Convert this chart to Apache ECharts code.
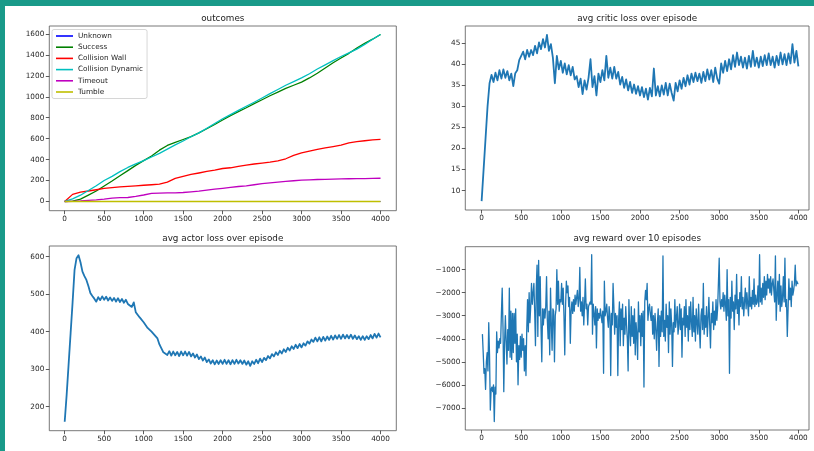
<!DOCTYPE html>
<html><head><meta charset="utf-8">
<script src="https://cdn.jsdelivr.net/npm/echarts@6/dist/echarts.min.js"></script>
<style>html,body{margin:0;padding:0;background:#fff}#c{width:814px;height:451px}</style>
</head><body><div id="c"></div>
<script>
// ---- tick labels ----
const xTickValues = [0,500,1000,1500,2000,2500,3000,3500,4000];
const outcomeTickValues = [0,200,400,600,800,1000,1200,1400,1600];
const criticTickValues = [10,15,20,25,30,35,40,45];
const actorTickValues = [200,300,400,500,600];
const rewardTickValues = [-7000,-6000,-5000,-4000,-3000,-2000,-1000];

// ---- outcomes (cumulative counts, every 100 episodes) ----
const outcomeEpisodes = [0,100,200,300,400,500,600,700,800,900,1000,1100,1200,1300,1400,1500,1600,1700,1800,1900,2000,2100,2200,2300,2400,2500,2600,2700,2800,2900,3000,3100,3200,3300,3400,3500,3600,3700,3800,3900,4000];
const unknown = [0,0,0,0,0,0,0,0,0,0,0,0,0,0,0,0,0,0,0,0,0,0,0,0,0,0,0,0,0,0,0,0,0,0,0,0,0,0,0,0,0];
const success = [0,3,22,60,100,148,195,245,295,345,390,435,490,535,565,592,620,655,695,735,778,820,858,895,935,972,1010,1045,1080,1110,1140,1180,1225,1275,1325,1370,1415,1465,1510,1550,1595];
const collisionWall = [0,68,90,100,112,125,133,140,145,150,155,160,165,185,220,240,258,272,287,300,315,322,335,348,358,366,375,388,408,440,465,482,498,512,525,538,560,572,580,588,593];
const collisionDynamic = [0,25,60,105,150,200,240,285,325,360,390,425,460,500,540,578,618,655,700,745,790,830,870,910,948,988,1030,1070,1110,1145,1180,1220,1265,1305,1345,1385,1420,1455,1500,1550,1595];
const timeout = [0,2,5,10,15,22,32,36,38,48,62,78,80,82,83,86,92,98,108,118,126,135,143,150,160,170,178,185,192,198,204,207,210,212,214,216,217,218,219,221,222];
const tumble = [0,0,0,0,0,0,0,0,0,0,0,0,0,0,0,0,0,0,0,0,0,0,0,0,0,0,0,0,0,0,0,0,0,0,0,0,0,0,0,0,0];

// ---- avg critic loss (every 25 episodes) ----
const criticStep = 25;
const criticLoss = [
7.5,15,22.5,30,35.5,37.5,35.8,38.0,36.2,38.6,
36.6,38.8,36.8,38.4,36.2,37.8,34.8,37.9,38.6,41.0,
41.0,43.0,41.2,43.4,41.8,43.4,42.2,44.4,42.6,45.2,
43.6,46.0,44.0,47.0,43.2,44.8,41.6,35.5,42.0,38.8,
40.8,38.0,40.2,37.6,39.8,37.4,39.4,36.4,37.2,34.6,
36.6,32.9,36.2,34.0,36.8,41.2,34.6,37.2,32.6,37.8,
35.8,38.6,36.2,42.0,36.8,39.2,36.6,39.4,36.6,38.2,
35.2,37.0,34.4,36.4,33.8,35.8,33.2,35.2,33.0,34.8,
32.6,34.6,32.2,34.2,31.6,34.4,32.4,39.0,32.6,34.8,
32.4,35.0,32.8,35.6,32.6,35.4,33.2,31.4,35.6,33.6,
36.2,34.2,36.8,34.8,37.4,35.2,37.8,35.8,38.0,36.0,
37.8,35.6,38.2,36.0,38.8,36.4,38.6,35.8,39.2,36.6,
35.4,40.2,38.0,40.8,38.4,41.2,38.8,42.2,39.4,42.8,
39.8,41.8,39.2,41.6,39.0,42.0,39.4,43.2,39.6,41.6,
39.2,41.8,39.6,42.2,39.8,42.6,39.8,41.8,39.2,42.0,
39.8,42.8,40.0,42.4,39.8,42.6,40.2,44.8,40.4,43.2,
39.5];

// ---- avg actor loss (every 25 episodes) ----
const actorStep = 25;
const actorLoss = [
160,232,314,396,478,565,596,604,585,560,
548,538,522,503,495,488,480,492,484,494,
485,493,483,491,482,490,480,489,479,487,
477,485,474,476,466,478,452,454,438,438,
425,426,410,413,400,404,388,382,366,364,
345,350,338,348,336,347,337,346,335,347,
337,347,336,346,334,342,331,339,327,334,
323,331,319,326,315,324,313,323,314,324,
314,325,314,324,313,324,314,325,315,324,
314,323,312,321,309,321,314,325,316,328,
319,330,324,335,329,340,334,345,338,349,
342,353,346,357,350,361,354,365,356,367,
358,369,363,374,368,379,373,384,374,385,
374,386,376,387,378,389,379,390,381,391,
381,392,382,391,382,392,381,390,380,388,
378,388,378,388,380,391,382,394,384,395,
385];

// ---- avg reward over 10 episodes (episodes 10..4000) ----
const rewardStep = 10;
const rewardAvg = [
-3800,-4600,-5500,-5300,-6200,-5000,-4600,-5400,-3300,-4700,
-7100,-6200,-6100,-6300,-6000,-7600,-6100,-6400,-3700,-4600,
-4100,-4400,-4000,-4200,-2900,-1800,-3500,-6300,-4200,-3000,
-4100,-5100,-3600,-4500,-1800,-4800,-2800,-4900,-2900,-4600,
-2900,-4200,-2700,-5000,-3800,-6000,-4300,-4900,-3900,-4800,
-3800,-4500,-4000,-5400,-4300,-5600,-3600,-2300,-3700,-2000,
-3300,-2600,-1600,-2500,-2000,-1600,-2800,-4300,-1800,-800,
-3900,-600,-3000,-1300,-3500,-5000,-2700,-3400,-2700,-3100,
-2600,-1300,-3200,-4000,-2800,-4700,-1800,-3300,-4500,-2700,
-2800,-5000,-3000,-2700,-1000,-2500,-1500,-2800,-2300,-2400,
-1600,-2500,-1800,-3000,-4700,-2600,-1500,-2000,-1700,-2600,
-2200,-4200,-2800,-2400,-2900,-2300,-2800,-2100,-2500,-2200,
-1900,-2600,-2300,-900,-2800,-2400,-3000,-2200,-3400,-2500,
-1400,-2700,-2500,-3400,-2600,-2500,-2400,-2500,-350,-3800,
-2500,-2900,-3400,-2600,-4400,-2700,-3200,-2900,-3100,-2700,
-3000,-3300,-2800,-5500,-1500,-3000,-2800,-2500,-3100,-3500,
-2600,-3000,-5600,-2900,-3400,-1600,-2600,-3800,-2900,-3500,
-3000,-5600,-3200,-2400,-4300,-2700,-3600,-2500,-4300,-3100,
-3800,-2600,-3400,-4000,-5400,-2300,-3600,-4300,-2600,-3900,
-3000,-4200,-2700,-4700,-3300,-3800,-4900,-2400,-3700,-3000,
-4300,-2900,-3900,-2800,-6100,-2400,-1900,-2300,-1600,-3200,
-2700,-2500,-2900,-3200,-2600,-3800,-3000,-4000,-2900,-3600,
-4500,-3300,-2700,-5200,-3000,-3900,-2800,-3700,-400,-3900,
-3200,-4100,-2500,-3500,-3000,-4600,-2400,-3800,-2700,-3400,
-5200,-3300,-3700,-2300,-3500,-3100,-2600,-3800,-3400,-2500,
-3600,-2700,-4800,-3100,-3400,-2600,-3900,-2300,-3500,-3000,
-4100,-2600,-3600,-2400,-3300,-3900,-2200,-3700,-3000,-4100,
-2700,-3300,-3800,-2500,-3500,-4400,-3000,-2700,-3600,-1600,
-3800,-3000,-3500,-2600,-3900,-3100,-2200,-3400,-4400,-2900,
-3300,-2400,-3600,-2800,-3400,-2300,-3200,-2700,-1600,-500,
-2400,-2700,-2300,-2600,-2000,-2800,-2100,-2500,-3200,-1000,
-3000,-2300,-5500,-2200,-3100,-1500,-2800,-2400,-3600,-2100,
-2700,-1200,-2900,-2300,-3400,-2000,-2600,-1300,-2700,-2200,
-3000,-2400,-1800,-2700,-2000,-2500,-3000,-1300,-2600,-2200,
-2700,-1900,-2500,-1400,-2600,-2100,-2500,-2400,-1700,-2600,
-350,-2400,-1800,-2500,-1600,-2200,-1300,-2300,-1500,-2100,
-1200,-1800,-1400,-2000,-1300,-2100,-1600,-1400,-1900,-2400,
-400,-3200,-2100,-1500,-2500,-1200,-2800,-1700,-2600,-2200,
-1300,-2400,-500,-2600,-2300,-3900,-2700,-1400,-2300,-1800,
-2600,-1500,-2100,-1900,-1600,-800,-1700,-1500,-1600,-1600];

const FONT = 'DejaVu Sans';
const BLUE = '#1f77b4';

function xAx(g, min, max) {
  return {type:'value', gridIndex:g, min:min, max:max,
    splitLine:{show:false}, axisLine:{show:false, onZero:false},
    axisTick:{show:true, length:3.5, customValues:xTickValues, lineStyle:{color:'#333', width:0.8}},
    axisLabel:{customValues:xTickValues, fontSize:7.3, color:'#262626', fontFamily:FONT, margin:5,
      formatter: v => String(v)}};
}
function yAx(g, min, max, ticks, fmt) {
  return {type:'value', gridIndex:g, min:min, max:max,
    splitLine:{show:false}, axisLine:{show:false, onZero:false},
    axisTick:{show:true, length:3.5, customValues:ticks, lineStyle:{color:'#333', width:0.8}},
    axisLabel:{customValues:ticks, fontSize:7.3, color:'#262626', fontFamily:FONT, margin:5,
      formatter: fmt || (v => String(v))}};
}
function line(name, g, xs, ys, color, w, z) {
  return {type:'line', name:name, xAxisIndex:g, yAxisIndex:g, z: z || 2,
    data: ys.map((v,i)=>[xs(i), v]), showSymbol:false, symbol:'none',
    lineStyle:{width:w||1.3, color:color, join:'round'}, itemStyle:{color:color}, animation:false};
}
const gridBase = {show:true, borderColor:'#555', borderWidth:0.8, containLabel:false};
function title(text, cx, top) {
  return {text:text, left:cx, top:top, textAlign:'center', padding:0,
    textStyle:{fontSize:8.8, fontWeight:'normal', color:'#222', fontFamily:FONT}};
}
const minusFmt = v => v < 0 ? '\u2212' + Math.abs(v) : String(v);

const chart = echarts.init(document.getElementById('c'), null, {renderer:'canvas'});
chart.setOption({
  animation:false,
  backgroundColor:'#fff',
  graphic:[
    {type:'rect', shape:{x:0,y:0,width:814,height:6}, style:{fill:'#199a89'}, z:100},
    {type:'rect', shape:{x:0,y:0,width:5,height:451}, style:{fill:'#199a89'}, z:100}
  ],
  title:[
    title('outcomes', 222.8, 14),
    title('avg critic loss over episode', 637.2, 14),
    title('avg actor loss over episode', 222.8, 234),
    title('avg reward over 10 episodes', 637.2, 234)
  ],
  grid:[
    Object.assign({left:49.3, top:26, width:347, height:184.7}, gridBase),
    Object.assign({left:465.3, top:26, width:343.7, height:184}, gridBase),
    Object.assign({left:49.3, top:246, width:347, height:184.7}, gridBase),
    Object.assign({left:465.3, top:246.7, width:343.7, height:183.3}, gridBase)
  ],
  xAxis:[ xAx(0,-195,4200), xAx(1,-206,4134), xAx(2,-195,4200), xAx(3,-206,4134) ],
  yAxis:[
    yAx(0,-88,1676,outcomeTickValues),
    yAx(1,5.4,49.1,criticTickValues),
    yAx(2,136,628.4,actorTickValues),
    yAx(3,-7965,0,rewardTickValues,minusFmt)
  ],
  legend:{
    left:52, top:29.5, orient:'vertical', itemWidth:17, itemHeight:1.6, itemGap:2.2,
    icon:'rect', padding:[2,4,2,4], borderColor:'#cccccc', borderWidth:0.8, borderRadius:2,
    backgroundColor:'rgba(255,255,255,0.85)',
    textStyle:{fontSize:7.3, color:'#262626', fontFamily:FONT, lineHeight:9, padding:[0,0,0,0]},
    data:['Unknown','Success','Collision Wall','Collision Dynamic','Timeout','Tumble']
  },
  series:[
    line('Unknown',0,i=>outcomeEpisodes[i],unknown,'#0000ff',1.0,1),
    line('Success',0,i=>outcomeEpisodes[i],success,'#008000'),
    line('Collision Wall',0,i=>outcomeEpisodes[i],collisionWall,'#ff0000'),
    line('Collision Dynamic',0,i=>outcomeEpisodes[i],collisionDynamic,'#00bfbf'),
    line('Timeout',0,i=>outcomeEpisodes[i],timeout,'#bf00bf'),
    line('Tumble',0,i=>outcomeEpisodes[i],tumble,'#bfbf00',1.6,3),
    line('critic',1,i=>i*criticStep,criticLoss,BLUE,1.8),
    line('actor',2,i=>i*actorStep,actorLoss,BLUE,1.8),
    line('reward',3,i=>(i+1)*rewardStep,rewardAvg,BLUE,1.3)
  ]
});
</script></body></html>
